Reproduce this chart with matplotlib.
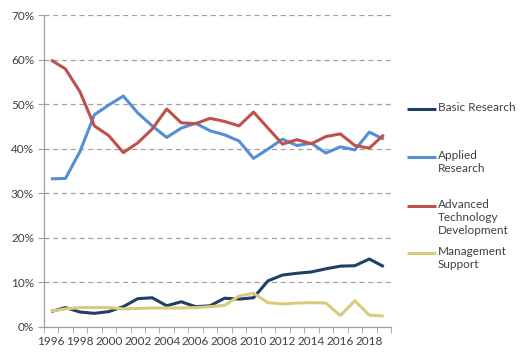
import numpy as np
import matplotlib
matplotlib.use("Agg")
import matplotlib.pyplot as plt
from matplotlib.lines import Line2D
from matplotlib.ticker import MultipleLocator, FuncFormatter

years = list(range(1996, 2020))

basic = [3.4, 4.3, 3.3, 3.0, 3.4, 4.5, 6.3, 6.5, 4.7, 5.6, 4.5, 4.7, 6.4, 6.2, 6.5,
         10.3, 11.6, 12.0, 12.3, 13.0, 13.6, 13.7, 15.2, 13.5]
applied = [33.2, 33.3, 39.3, 47.6, 49.8, 51.8, 48.0, 45.1, 42.5, 44.6, 45.7, 44.0, 43.1, 41.7, 37.8,
           39.9, 42.1, 40.7, 41.2, 39.0, 40.4, 39.7, 43.7, 42.1]
advanced = [59.9, 57.9, 52.8, 45.1, 42.9, 39.1, 41.3, 44.4, 48.9, 45.8, 45.6, 46.8, 46.1, 45.1, 48.2,
            44.6, 41.0, 42.0, 41.1, 42.7, 43.3, 40.7, 40.1, 43.1]
mgmt = [3.5, 4.0, 4.3, 4.3, 4.3, 4.0, 4.1, 4.2, 4.2, 4.2, 4.3, 4.5, 4.8, 6.9, 7.5,
        5.4, 5.1, 5.3, 5.4, 5.3, 2.5, 5.8, 2.6, 2.4]

series = [
    ("Basic Research", basic, "#1F3F66"),
    ("Applied\nResearch", applied, "#558ED5"),
    ("Advanced\nTechnology\nDevelopment", advanced, "#C0504D"),
    ("Management\nSupport", mgmt, "#D8CB7E"),
]

plt.rcParams['font.family'] = ['Lato', 'DejaVu Sans']
txt = "#404040"
gray = "#A0A0A0"

fig = plt.figure(figsize=(5.23, 3.55), dpi=100)
ax = fig.add_axes([0.0836, 0.0797, 0.664, 0.878])

for name, vals, col in series:
    ax.plot(years, vals, color=col, lw=2.2, solid_capstyle="butt", zorder=3)

ax.set_xlim(1995.5, 2019.5)
ax.set_ylim(0, 70)
ax.yaxis.set_major_locator(MultipleLocator(10))
ax.yaxis.set_major_formatter(FuncFormatter(lambda v, p: "{:.0f}%".format(v)))
ax.set_xticks(years[::2])
ax.set_xticks(np.arange(1995.5, 2020, 1), minor=True)
ax.tick_params(axis="x", which="major", length=0, pad=7, labelsize=8.5, labelcolor=txt)
ax.tick_params(axis="x", which="minor", length=4, color=gray, direction="out")
ax.tick_params(axis="y", length=4, color=gray, labelsize=8.5, labelcolor=txt, pad=3)

ax.grid(axis="y", color=gray, ls=(0, (4, 3)), lw=0.9, zorder=0)
for s in ["top", "right"]:
    ax.spines[s].set_visible(False)
for s in ["left", "bottom"]:
    ax.spines[s].set_color(gray)
    ax.spines[s].set_linewidth(0.9)

# legend drawn by hand: key line sits on the first text line
leg_y = [109, 157, 206, 253]
for (name, vals, col), yc in zip(series, leg_y):
    yf = 1 - yc / 355
    fig.add_artist(Line2D([407 / 523, 436 / 523], [yf, yf], color=col, lw=2.2,
                          solid_capstyle="butt", transform=fig.transFigure))
    fig.text(438 / 523, 1 - (yc - 7) / 355, name, va="top", ha="left", fontsize=8.5,
             color=txt, linespacing=1.22)

fig.savefig("out.png", dpi=100)
